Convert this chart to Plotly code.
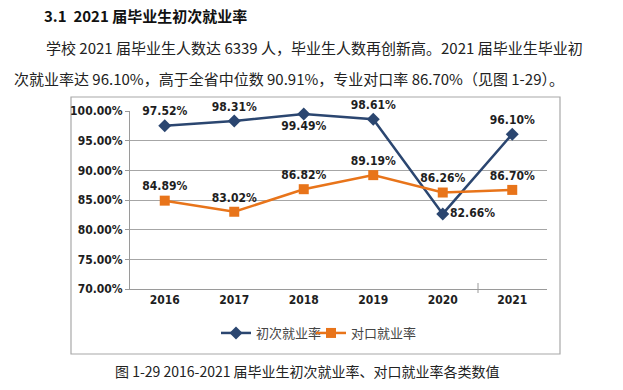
import plotly.graph_objects as go

years = ["2016", "2017", "2018", "2019", "2020", "2021"]
first_rate = [97.52, 98.31, 99.49, 98.61, 82.66, 96.10]
match_rate = [84.89, 83.02, 86.82, 89.19, 86.26, 86.70]
first_name = "初次就业率"
match_name = "对口就业率"
y_ticks = [70, 75, 80, 85, 90, 95, 100]
y_tick_text = ["70.00%", "75.00%", "80.00%", "85.00%", "90.00%", "95.00%", "100.00%"]
first_pos = ["top center", "top center", "bottom center", "top center", "middle right", "top center"]
match_pos = ["top center"] * 6

W, H = 623, 390
L, R, T, B = 130, 547, 111, 289

def px(x):
    return (x - L) / (R - L)

def py(y):
    return (B - y) / (B - T)

NARROW = "DejaVu Sans Condensed"
CJK = "Noto Sans CJK SC"
BLUE = "#2B4670"
ORANGE = "#E8741A"
LEG_FONT = dict(family=CJK, size=13, color="#444444")

fig = go.Figure()
fig.add_trace(go.Scatter(
    x=years, y=first_rate, name=first_name, mode="lines+markers+text",
    line=dict(color=BLUE, width=2.5),
    marker=dict(symbol="diamond", size=10, color=BLUE),
    text=[f"{v:.2f}%" for v in first_rate], textposition=first_pos,
    textfont=dict(family=NARROW, size=12, color="#1e1e1e", weight="bold"),
    cliponaxis=False, legend="legend",
))
fig.add_trace(go.Scatter(
    x=years, y=match_rate, name=match_name, mode="lines+markers+text",
    line=dict(color=ORANGE, width=2.5),
    marker=dict(symbol="square", size=10, color=ORANGE),
    text=[f"{v:.2f}%" for v in match_rate], textposition=match_pos,
    textfont=dict(family=NARROW, size=12, color="#1e1e1e", weight="bold"),
    cliponaxis=False, legend="legend2",
))

fig.update_layout(
    width=W, height=H,
    margin=dict(l=L, r=W - R, t=T, b=H - B, pad=0),
    paper_bgcolor="white", plot_bgcolor="white",
    showlegend=True,
    legend=dict(orientation="h", x=px(216), y=py(333), xanchor="left", yanchor="middle",
                font=LEG_FONT, itemwidth=30, bgcolor="rgba(0,0,0,0)"),
    legend2=dict(orientation="h", x=px(311), y=py(333), xanchor="left", yanchor="middle",
                 font=LEG_FONT, itemwidth=30, bgcolor="rgba(0,0,0,0)"),
    xaxis=dict(type="category", range=[-0.5, 5.5], showgrid=False,
               showline=True, linecolor="#9a9a9a", linewidth=1, ticks="",
               tickfont=dict(family=NARROW, size=12, color="#1e1e1e", weight="bold"),
               fixedrange=True),
    yaxis=dict(range=[70, 100], tickvals=y_ticks, ticktext=y_tick_text,
               showgrid=True, gridcolor="#a6a6a6", gridwidth=1,
               showline=True, linecolor="#9a9a9a", linewidth=1,
               ticks="outside", ticklen=4, tickcolor="#9a9a9a",
               tickfont=dict(family=NARROW, size=12, color="#1e1e1e", weight="bold"),
               zeroline=False, fixedrange=True),
    shapes=[
        dict(type="rect", xref="paper", yref="paper", x0=px(71), x1=px(560), y0=py(354), y1=py(97),
             line=dict(color="#a8a8a8", width=1.2), fillcolor="rgba(0,0,0,0)", layer="below"),
        dict(type="line", xref="paper", yref="paper", x0=px(478), x1=px(478), y0=py(293), y1=py(283),
             line=dict(color="#9a9a9a", width=1)),
    ],
    annotations=[
        dict(text="<b>3.1  2021 届毕业生初次就业率</b>", xref="paper", yref="paper",
             x=px(42), y=py(16), xanchor="left", yanchor="middle", showarrow=False,
             font=dict(family=CJK, size=15, color="#111111")),
        dict(text="学校 2021 届毕业生人数达 6339 人，毕业生人数再创新高。2021 届毕业生毕业初",
             xref="paper", yref="paper", x=px(44), y=py(48), xanchor="left", yanchor="middle",
             showarrow=False, font=dict(family=CJK, size=15, color="#222222")),
        dict(text="次就业率达 96.10%，高于全省中位数 90.91%，专业对口率 86.70%（见图 1-29）。",
             xref="paper", yref="paper", x=px(12), y=py(78), xanchor="left", yanchor="middle",
             showarrow=False, font=dict(family=CJK, size=15, color="#222222")),
        dict(text="图 1-29 2016-2021 届毕业生初次就业率、对口就业率各类数值",
             xref="paper", yref="paper", x=px(307), y=py(371), xanchor="center", yanchor="middle",
             showarrow=False, font=dict(family=CJK, size=14, color="#222222")),
    ],
)

fig.write_html("out.html", config={"displayModeBar": False},
               post_script="document.body.style.margin='0px';")
